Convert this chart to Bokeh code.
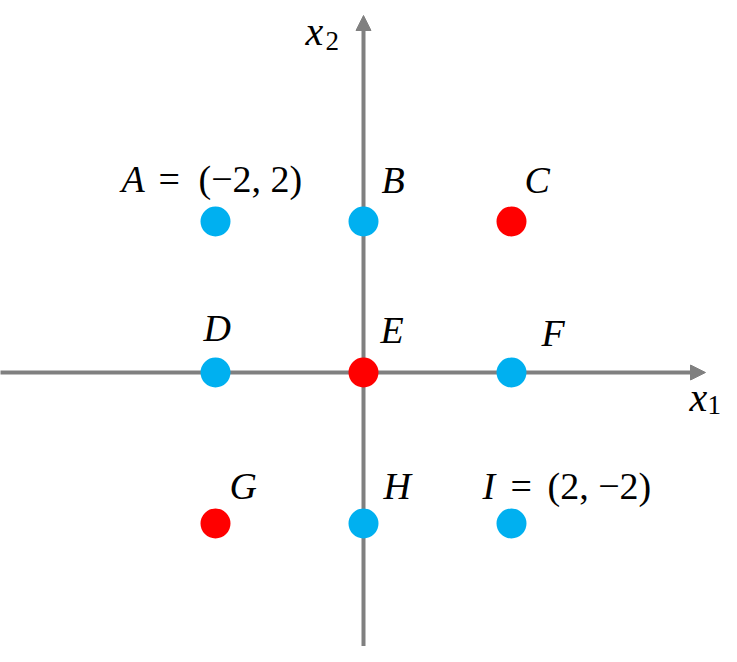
from bokeh.plotting import figure
from bokeh.models import Arrow, NormalHead, Range1d
from bokeh.core.properties import value
from bokeh.embed import file_html
from bokeh.resources import INLINE

# ---- data ----
names = ["A", "B", "C", "D", "E", "F", "G", "H", "I"]
x1 = [-2, 0, 2, -2, 0, 2, -2, 0, 2]
x2 = [2, 2, 2, 0, 0, 0, -2, -2, -2]
classes = ["neg", "neg", "pos", "neg", "pos", "neg", "pos", "neg", "neg"]
annotated = {"A": ["=", "(\u22122, 2)"], "I": ["=", "(2, \u22122)"]}
axis_names = [("x", "1"), ("x", "2")]

# ---- layout / style ----
W, H = 721, 646
SX, SY = 74.0, 75.5          # pixels per unit
OX, OY = 363, 372            # origin in figure pixels
xr = Range1d(-OX / SX, (W - OX) / SX)
yr = Range1d(-(H - OY) / SY, OY / SY)
GRAY = "#808080"
COLORS = {"neg": "#00B0F0", "pos": "#FF0000"}
FONT = value("Liberation Serif")
FS = "38px"
B = -13  # baseline correction

# label pixel offsets (dx right, dy down) from each point
name_off = {"A": (-94, -30), "B": (18, -29), "C": (13, -29),
            "D": (-12, -32), "E": (17, -30), "F": (30, -27),
            "G": (14, -25), "H": (20, -25), "I": (-29, -25)}
extra_off = {"A": [(-57, -30), (-17, -30)], "I": [(-1, -25), (36, -25)]}

def px(x, y, dx, dy):
    return x + dx / SX, y - (dy + B) / SY

p = figure(width=W, height=H, x_range=xr, y_range=yr,
           output_backend="svg", toolbar_location=None, min_border=0)
p.axis.visible = False
p.grid.visible = False
p.outline_line_color = None
p.background_fill_color = "white"
p.border_fill_color = "white"

x_tip = (705 - OX) / SX
y_tip = (OY - 15) / SY
p.add_layout(Arrow(x_start=xr.start - 1, y_start=0, x_end=x_tip, y_end=0,
                   line_color=GRAY, line_width=4, level="underlay",
                   end=NormalHead(size=15, fill_color=GRAY, line_color=GRAY, line_width=1)))
p.add_layout(Arrow(x_start=0, y_start=yr.start - 1, x_end=0, y_end=y_tip,
                   line_color=GRAY, line_width=4, level="underlay",
                   end=NormalHead(size=15, fill_color=GRAY, line_color=GRAY, line_width=1)))

p.scatter(x1, x2, size=30, fill_color=[COLORS[c] for c in classes],
          line_color=None)

# point labels
for n, a, b in zip(names, x1, x2):
    lx, ly = px(a, b, *name_off[n])
    p.text([lx], [ly], text=[n], text_font=FONT, text_font_style="italic",
           text_font_size=FS, text_color="black",
           text_align="left", text_baseline="alphabetic")
    if n in annotated:
        for piece, off in zip(annotated[n], extra_off[n]):
            ex, ey = px(a, b, *off)
            p.text([ex], [ey], text=[piece], text_font=FONT,
                   text_font_size=FS, text_color="black",
                   text_align="left", text_baseline="alphabetic")

# axis labels
anchors = [(x_tip, 0, (-16, 38), (2, 45)), (0, y_tip, (-58, 29), (-38, 38))]
for (main, sub), (ax, ay, mo, so) in zip(axis_names, anchors):
    mx, my = px(ax, ay, *mo)
    p.text([mx], [my], text=[main], text_font=FONT, text_font_style="italic",
           text_font_size="40px", text_color="black",
           text_align="left", text_baseline="alphabetic")
    sx_, sy_ = px(ax, ay, *so)
    p.text([sx_], [sy_], text=[sub], text_font=FONT,
           text_font_size="27px", text_color="black",
           text_align="left", text_baseline="alphabetic")

open("out.html", "w").write(file_html(p, INLINE))
